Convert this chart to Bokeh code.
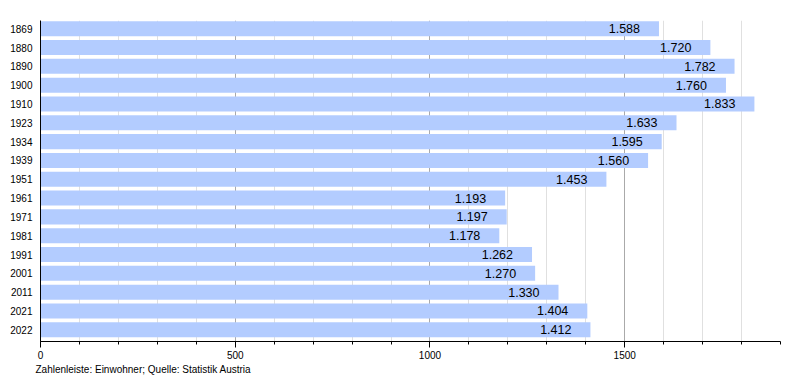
from bokeh.plotting import figure
from bokeh.models import Range1d, FixedTicker, SingleIntervalTicker, Title, ColumnDataSource
from bokeh.core.properties import value
from bokeh.embed import file_html
from bokeh.resources import INLINE

years = ["1869", "1880", "1890", "1900", "1910", "1923", "1934", "1939", "1951",
         "1961", "1971", "1981", "1991", "2001", "2011", "2021", "2022"]
population = [1588, 1720, 1782, 1760, 1833, 1633, 1595, 1560, 1453,
              1193, 1197, 1178, 1262, 1270, 1330, 1404, 1412]
value_labels = [f"{v:,}".replace(",", ".") for v in population]
footer_text = "Zahlenleiste: Einwohner; Quelle: Statistik Austria"

idx = list(range(len(years)))
src = ColumnDataSource(dict(y=idx, v=population, lab=value_labels))

FONT = "Liberation Sans"

p = figure(width=792, height=378,
           x_range=Range1d(0, 1900), y_range=Range1d(16.622, -0.436),
           output_backend="svg", toolbar_location=None,
           min_border_left=40, min_border_right=12,
           min_border_top=20, min_border_bottom=37)
p.outline_line_color = None
p.background_fill_color = "white"

p.hbar(y="y", left=0, right="v", height=0.8, source=src,
       fill_color="#b3ccff", line_color=None)
p.text(x="v", y="y", text="lab", source=src, x_offset=-19,
       text_align="right", text_baseline="middle",
       text_font=value(FONT), text_font_size="12.5px", text_color="black")

# x axis
p.xaxis.ticker = SingleIntervalTicker(interval=500, num_minor_ticks=5)
p.xaxis.axis_line_color = "black"
p.xaxis.major_tick_line_color = "black"
p.xaxis.minor_tick_line_color = "black"
p.xaxis.major_tick_out = 6
p.xaxis.major_tick_in = 0
p.xaxis.minor_tick_out = 3
p.xaxis.minor_tick_in = 0
p.xaxis.major_label_standoff = 3
p.xaxis.major_label_text_font = FONT
p.xaxis.major_label_text_font_size = "10px"
p.xaxis.major_label_text_color = "black"

p.xgrid.grid_line_color = "#aaaaaa"
p.xgrid.minor_grid_line_color = "#e0e0e0"
p.ygrid.grid_line_color = None

# y axis
p.yaxis.ticker = FixedTicker(ticks=idx)
p.yaxis.major_label_overrides = {i: y for i, y in zip(idx, years)}
p.yaxis.axis_line_color = "black"
p.yaxis.major_tick_out = 0
p.yaxis.major_tick_in = 0
p.yaxis.minor_tick_line_color = None
p.yaxis.major_label_standoff = 8
p.yaxis.major_label_text_font = FONT
p.yaxis.major_label_text_font_size = "10px"
p.yaxis.major_label_text_color = "black"

p.add_layout(Title(text=footer_text, align="left", offset=-5, standoff=0,
                   text_font=FONT, text_font_size="10px", text_font_style="normal",
                   text_color="black"), "below")

open("out.html", "w").write(file_html(p, INLINE))
